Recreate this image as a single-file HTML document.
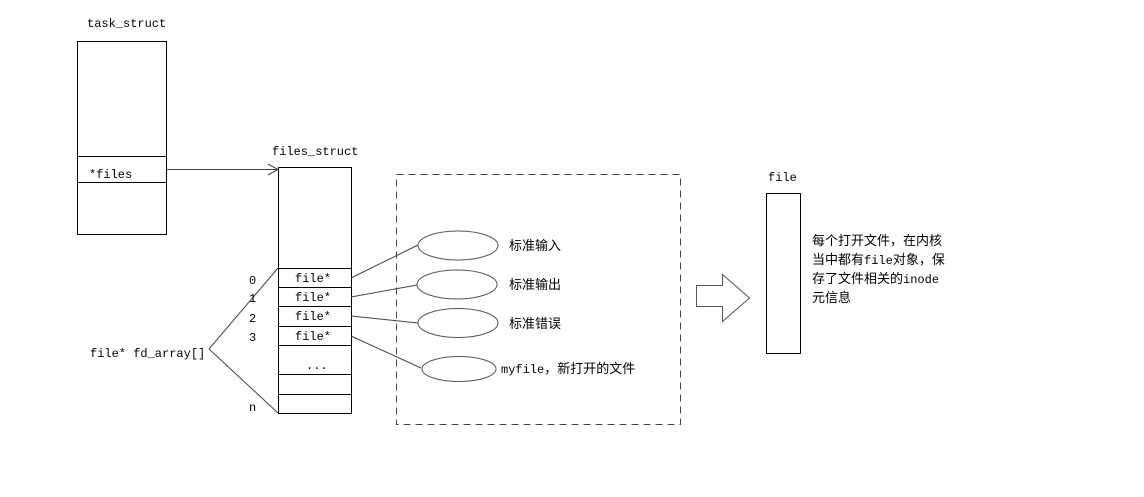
<!DOCTYPE html>
<html><head><meta charset="utf-8"><style>
html,body{margin:0;padding:0;background:#fff;}
svg text{font-family:"Liberation Mono","Noto Sans CJK SC",monospace;font-size:12px;fill:#000;}
.c{font-family:"Liberation Sans","Noto Sans CJK SC",sans-serif;font-size:13px;}
</style></head><body>
<svg width="1144" height="492" xmlns="http://www.w3.org/2000/svg">
<g fill="none" stroke="#000" stroke-width="1">
<rect x="77.5" y="41.5" width="89" height="193"/>
<line x1="77" y1="156.5" x2="166" y2="156.5"/>
<line x1="77" y1="182.5" x2="166" y2="182.5"/>
<polyline points="166,169.5 278,169.5" stroke="#444"/>
<polyline points="268,164 278,169.5 268,175" stroke="#444"/>
<rect x="278.5" y="167.5" width="73" height="246"/>
<line x1="278" y1="268.5" x2="351" y2="268.5"/>
<line x1="278" y1="287.5" x2="351" y2="287.5"/>
<line x1="278" y1="306.5" x2="351" y2="306.5"/>
<line x1="278" y1="326.5" x2="351" y2="326.5"/>
<line x1="278" y1="345.5" x2="351" y2="345.5"/>
<line x1="278" y1="374.5" x2="351" y2="374.5"/>
<line x1="278" y1="394.5" x2="351" y2="394.5"/>
<line x1="209" y1="349" x2="278" y2="268" stroke="#444"/>
<line x1="209" y1="349" x2="278" y2="413" stroke="#444"/>
<line x1="351" y1="278" x2="418" y2="245" stroke="#444"/>
<line x1="351" y1="297" x2="417" y2="285" stroke="#444"/>
<line x1="351" y1="316" x2="418" y2="323" stroke="#444"/>
<line x1="351" y1="336" x2="421" y2="368" stroke="#444"/>
<ellipse cx="458" cy="245.5" rx="40" ry="14.5" stroke="#555"/>
<ellipse cx="457" cy="284.5" rx="40" ry="14.5" stroke="#555"/>
<ellipse cx="458" cy="323" rx="40" ry="14.5" stroke="#555"/>
<ellipse cx="459" cy="369" rx="37" ry="12.5" stroke="#555"/>
<rect x="396.5" y="174.5" width="284" height="250" stroke="#444" stroke-dasharray="7,5"/>
<polygon points="696.5,285.5 722.5,285.5 722.5,274.5 749.5,298 722.5,321.5 722.5,306.5 696.5,306.5" stroke="#555"/>
<rect x="766.5" y="193.5" width="34" height="160"/>
</g>
<text x="87" y="27">task_struct</text>
<text x="89" y="178">*files</text>
<text x="272" y="155">files_struct</text>
<text x="295" y="282">file*</text>
<text x="295" y="301">file*</text>
<text x="295" y="320">file*</text>
<text x="295" y="340">file*</text>
<text x="306" y="369">...</text>
<text x="249" y="284">0</text>
<text x="249" y="302">1</text>
<text x="249" y="322">2</text>
<text x="249" y="341">3</text>
<text x="249" y="411">n</text>
<text x="90" y="357">file* fd_array[]</text>
<text class="c" x="509" y="250">标准输入</text>
<text class="c" x="509" y="289">标准输出</text>
<text class="c" x="509" y="328">标准错误</text>
<text x="501" y="373">myfile<tspan class="c">，新打开的文件</tspan></text>
<text x="768" y="181">file</text>
<text class="c" x="812" y="245">每个打开文件，在内核</text>
<text class="c" x="812" y="264">当中都有<tspan style="font-family:'Liberation Mono',monospace;font-size:12px">file</tspan>对象，保</text>
<text class="c" x="812" y="283">存了文件相关的<tspan style="font-family:'Liberation Mono',monospace;font-size:12px">inode</tspan></text>
<text class="c" x="812" y="302">元信息</text>
</svg>
</body></html>
